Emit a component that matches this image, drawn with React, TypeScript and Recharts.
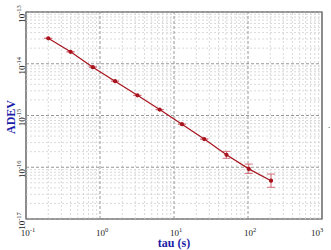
import React from 'react';
import {
  LineChart,
  Line,
  XAxis,
  YAxis,
  ErrorBar,
  ReferenceLine,
  ReferenceArea,
  Label,
} from 'recharts';

const tau = [0.2, 0.4, 0.8, 1.6, 3.2, 6.4, 12.8, 25.6, 51.2, 102.4, 204.8];
const adev = [3.1e-14, 1.7e-14, 8.6e-15, 4.6e-15, 2.45e-15, 1.3e-15, 6.8e-16, 3.5e-16, 1.74e-16, 9.3e-17, 5.5e-17];
const errLow = [0, 0, 0, 0, 0, 0, 0, 0, 2.5e-17, 1.7e-17, 1.4e-17];
const errHigh = [0, 0, 0, 0, 0, 0, 0, 0, 2.9e-17, 2.2e-17, 1.9e-17];

const xMajor = [0.1, 1, 10, 100, 1000];
const yMajor = [1e-17, 1e-16, 1e-15, 1e-14, 1e-13];
const xExp = ['-1', '0', '1', '2', '3'];
const yExp = ['-17', '-16', '-15', '-14', '-13'];

const minorOf = (majors: number[]) =>
  majors.slice(0, -1).flatMap(m => [2, 3, 4, 5, 6, 7, 8, 9].map(k => k * m));
const xMinor = minorOf(xMajor);
const yMinor = minorOf(yMajor);

const data = tau.map((t, i) => ({ tau: t, adev: adev[i], err: [errLow[i], errHigh[i]] }));

const FONT = '"Liberation Serif", "DejaVu Serif", serif';
const BLUE = '#1c1ca8';

const XTick = ({ x, payload }: any) => {
  const i = xMajor.indexOf(payload.value);
  return (
    <text x={x + 2} y={236} textAnchor="middle" fontFamily={FONT} fontSize={9} fill="#222">
      10<tspan dy={-4} fontSize={6.5}>{xExp[i]}</tspan>
    </text>
  );
};

const YTick = ({ y, payload }: any) => {
  const i = yMajor.indexOf(payload.value);
  const x = 25;
  return (
    <text
      x={x}
      y={y + 2}
      transform={`rotate(-90 ${x} ${y + 2})`}
      textAnchor="middle"
      fontFamily={FONT}
      fontSize={9}
      fill="#222"
    >
      10<tspan dy={-4} fontSize={6.5}>{yExp[i]}</tspan>
    </text>
  );
};

export default function App() {
  return (
    <div style={{ position: 'fixed', left: 0, top: 0, background: '#fff' }}>
      <LineChart width={331} height={250} data={data} margin={{ top: 12, right: 9, bottom: 0, left: 0 }}>
        <XAxis
          dataKey="tau"
          type="number"
          scale="log"
          domain={[0.1, 1000]}
          ticks={xMajor}
          allowDataOverflow
          axisLine={false}
          tickLine={false}
          height={31}
          tick={<XTick />}
        >
          <Label
            content={() => (
              <text x={174} y={247} textAnchor="middle" fontFamily={FONT} fontSize={12} fontWeight="bold" fill={BLUE}>
                tau (s)
              </text>
            )}
          />
        </XAxis>
        <YAxis
          type="number"
          scale="log"
          domain={[1e-17, 1e-13]}
          ticks={yMajor}
          allowDataOverflow
          axisLine={false}
          tickLine={false}
          width={26}
          tick={<YTick />}
        >
          <Label
            content={() => (
              <text
                x={15}
                y={117}
                transform="rotate(-90 15 117)"
                textAnchor="middle"
                fontFamily={FONT}
                fontSize={12}
                fontWeight="bold"
                fill={BLUE}
              >
                ADEV
              </text>
            )}
          />
        </YAxis>
        {xMinor.map(v => (
          <ReferenceLine key={`xm${v}`} x={v} stroke="#d0d0d0" strokeDasharray="2 2" strokeWidth={0.8} />
        ))}
        {yMinor.map(v => (
          <ReferenceLine key={`ym${v}`} y={v} stroke="#d0d0d0" strokeDasharray="2 2" strokeWidth={0.8} />
        ))}
        {xMajor.map(v => (
          <ReferenceLine key={`xM${v}`} x={v} stroke="#8a8a8a" strokeDasharray="3 2" strokeWidth={0.9} />
        ))}
        {yMajor.map(v => (
          <ReferenceLine key={`yM${v}`} y={v} stroke="#8a8a8a" strokeDasharray="3 2" strokeWidth={0.9} />
        ))}
        <ReferenceArea x1={0.1} x2={1000} y1={1e-17} y2={1e-13} fill="none" stroke="#444" strokeWidth={1.2} />
        <Line
          dataKey="adev"
          stroke="#a8141e"
          strokeWidth={1.2}
          dot={{ r: 1.5, fill: '#a8141e', stroke: '#a8141e' }}
          isAnimationActive={false}
        >
          <ErrorBar dataKey="err" direction="y" width={4} stroke="#d4707a" strokeWidth={1} />
        </Line>
        <text x={328} y={128} fontFamily={FONT} fontSize={9} fill="#222">.</text>
      </LineChart>
    </div>
  );
}
